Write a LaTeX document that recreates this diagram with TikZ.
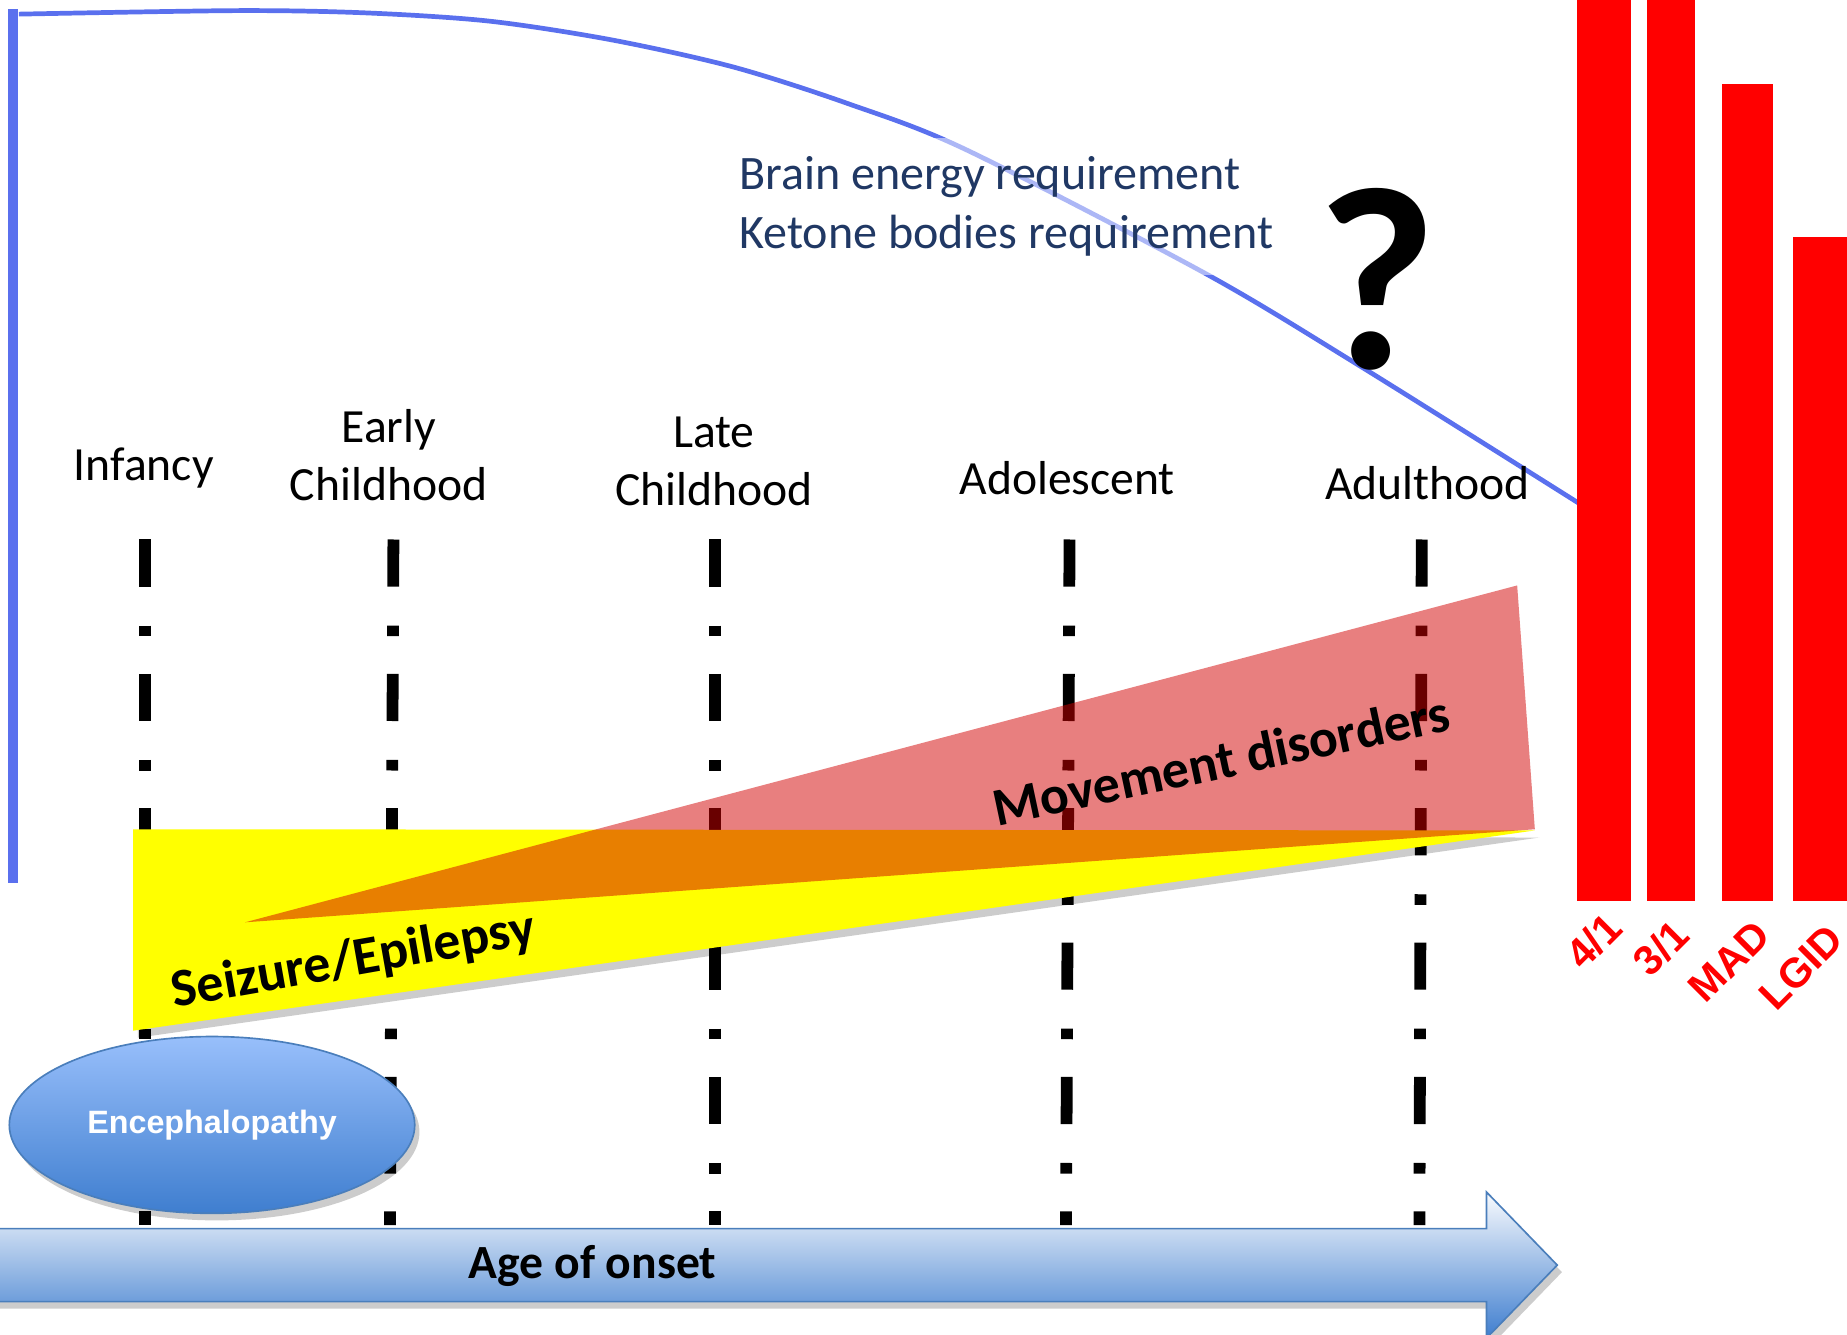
\documentclass[tikz,border=0pt]{standalone}
\usepackage{fontspec}
\setmainfont{Carlito}
\newfontfamily\arialfont{Liberation Sans}
\usetikzlibrary{positioning,shapes.geometric,shadows}
\definecolor{kdblue}{HTML}{5A70EE}
\definecolor{kdnavy}{HTML}{203864}
\definecolor{kdyellow}{HTML}{FFFF00}
\definecolor{kdred}{HTML}{D20000}
\definecolor{kdbar}{HTML}{FF0000}
\definecolor{kdskytop}{HTML}{98BFFB}
\definecolor{kdskybot}{HTML}{3F7ECF}
\definecolor{kdedge}{HTML}{4A7EBB}

\begin{document}
\begin{tikzpicture}[x=0.01cm,y=-0.01cm,
  stagelabel/.style={font=\fontsize{11.5}{14}\selectfont,align=center,inner sep=0pt},
  stageline/.style={line width=1mm,dash pattern=on 4mm off 3.3mm on 0.9mm off 3.2mm},
  bandtext/.style={font=\bfseries\fontsize{13}{15}\selectfont,inner sep=0pt},
  ketobar/.style={fill=kdbar},
  barlabel/.style={font=\arialfont\bfseries\fontsize{10}{11}\selectfont,text=kdbar,rotate=45,inner sep=0pt},
  softshadow/.style={drop shadow={shadow xshift=0.4mm,shadow yshift=-0.6mm,opacity=0.2,fill=black}}]
\useasboundingbox (0,0) rectangle (1568,1133);

% energy curve
\draw[kdblue,line width=0.9mm] (11,8) -- (11,750);
\draw[kdblue,line width=0.4mm] plot[smooth,tension=0.5] coordinates
  {(16,12) (203,9) (312,11) (416,18) (520,34) (623,57) (720,88) (820,127)
   (1023,232) (1155,311) (1340,427)};
\node[anchor=west,fill=white,fill opacity=0.5,text opacity=1,text=kdnavy,align=left,
  minimum height=1.16cm,inner xsep=0.12cm,font=\fontsize{11.6}{14.2}\selectfont] (energy) at (615,175)
  {Brain energy requirement\\Ketone bodies requirement};
\node[font=\bfseries\fontsize{63}{66}\selectfont,inner sep=0pt] (qmark) at (1169,237) {?};

% stages
\foreach \nm/\xl/\ly/\xt/\xb/\txt in {inf/122/397/123/123/Infancy,
    early/330/386/334/331/Early\\Childhood, late/606/392/607/607/Late\\Childhood,
    adol/906/406/908/905/Adolescent, adult/1212/410/1207/1205/Adulthood} {
  \node[stagelabel] (\nm) at (\xl,\ly) {\txt};
  \coordinate (\nm-top) at (\xt,458);
  \coordinate (\nm-bot) at (\xb,1040);
  \draw[stageline] (\nm-top) -- (\nm-bot);
}

% symptom bands
\fill[kdyellow,softshadow] (113,704) -- (1303,705) -- (113,875) -- cycle;
\fill[kdred,fill opacity=0.5] (208,783) -- (1288,497) -- (1303,704) -- cycle;
\node[bandtext,rotate=10] (seizure) at (300,816) {Seizure/Epilepsy};
\node[bandtext,rotate=12] (movement) at (1037,645) {Movement disorders};

\node[ellipse,draw=kdedge,top color=kdskytop,bottom color=kdskybot,minimum width=3.44cm,
  minimum height=1.5cm,inner sep=0pt,softshadow,text=white,
  font=\arialfont\bfseries\fontsize{7.8}{9}\selectfont] (enceph) at (180,955) {Encephalopathy};

% age axis
\path[draw=kdedge,top color=kdskytop!90!black!5,bottom color=kdskybot,softshadow]
  (-5,1043) -- (1262,1043) -- (1262,1012) -- (1322,1074) -- (1262,1136)
  -- (1262,1105) -- (-5,1105) -- cycle;
\node[font=\bfseries\fontsize{11.5}{13}\selectfont] (onset) at (503,1075) {Age of onset};

% diets
\foreach \nm/\xa/\xb/\yt/\lx/\lyy/\lab in {b41/1339/1385/0/1353/799/{4/1},
    b31/1398/1439/0/1410/805/{3/1}, bmad/1462/1505/71/1468/816/MAD,
    blgid/1522/1570/201/1529/821/LGID} {
  \fill[ketobar] (\xa,\yt) rectangle (\xb,765);
  \node[barlabel] (\nm) at (\lx,\lyy) {\lab};
}
\end{tikzpicture}
\end{document}
